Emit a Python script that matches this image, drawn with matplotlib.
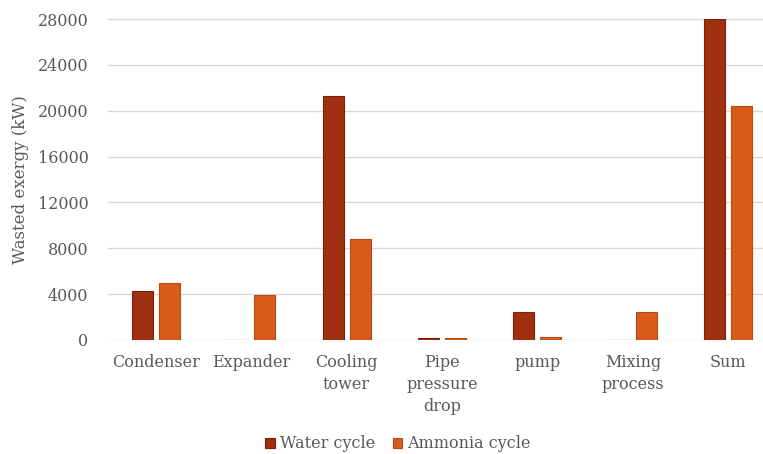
import numpy as np
import matplotlib
matplotlib.use("Agg")
import matplotlib.pyplot as plt

categories = ["Condenser", "Expander", "Cooling\ntower", "Pipe\npressure\ndrop",
              "pump", "Mixing\nprocess", "Sum"]
water = [4250, 0, 21280, 150, 2470, 0, 28000]
ammonia = [5000, 3950, 8810, 150, 235, 2470, 20400]
yticks = [0, 4000, 8000, 12000, 16000, 20000, 24000, 28000]

txt = "#595959"
grid = "#d9d9d9"
plt.rcParams["font.family"] = ["DejaVu Serif"]

fig = plt.figure(figsize=(7.63, 4.54), dpi=100)
# plot area runs slightly past the right edge of the figure
ax = fig.add_axes([108 / 763, 1 - 340 / 454, 668 / 763, 321 / 454])

x = np.arange(len(categories))
w = 0.22
off = 0.141
ax.bar(x - off, water, w, color="#a0300f", edgecolor="#7a2008", linewidth=0.8,
       label="Water cycle", zorder=3)
ax.bar(x + off, ammonia, w, color="#d95b1a", edgecolor="#b34a12", linewidth=0.8,
       label="Ammonia cycle", zorder=3)

ax.set_xlim(-0.5, len(categories) - 0.5)
ax.set_ylim(0, 28000)
ax.set_yticks(yticks)
ax.set_yticklabels([str(v) for v in yticks])
ax.yaxis.grid(True, color=grid, linewidth=1.0, zorder=0)
ax.set_xticks(x)
ax.set_xticklabels(categories, linespacing=1.4)
for s in ax.spines.values():
    s.set_visible(False)
ax.tick_params(axis="both", length=0, colors=txt, labelsize=11.5)
ax.tick_params(axis="y", pad=14)
ax.tick_params(axis="x", pad=10)
ax.set_ylabel("Wasted exergy (kW)", color=txt, fontsize=12, labelpad=6)

leg = fig.legend(loc="center", bbox_to_anchor=(398 / 763, 1 - 444 / 454), ncol=2,
                 frameon=False, fontsize=11.5, handlelength=0.6, handleheight=0.6,
                 handletextpad=0.3, columnspacing=1.1)
for t in leg.get_texts():
    t.set_color(txt)

fig.savefig("out.png", dpi=100)
